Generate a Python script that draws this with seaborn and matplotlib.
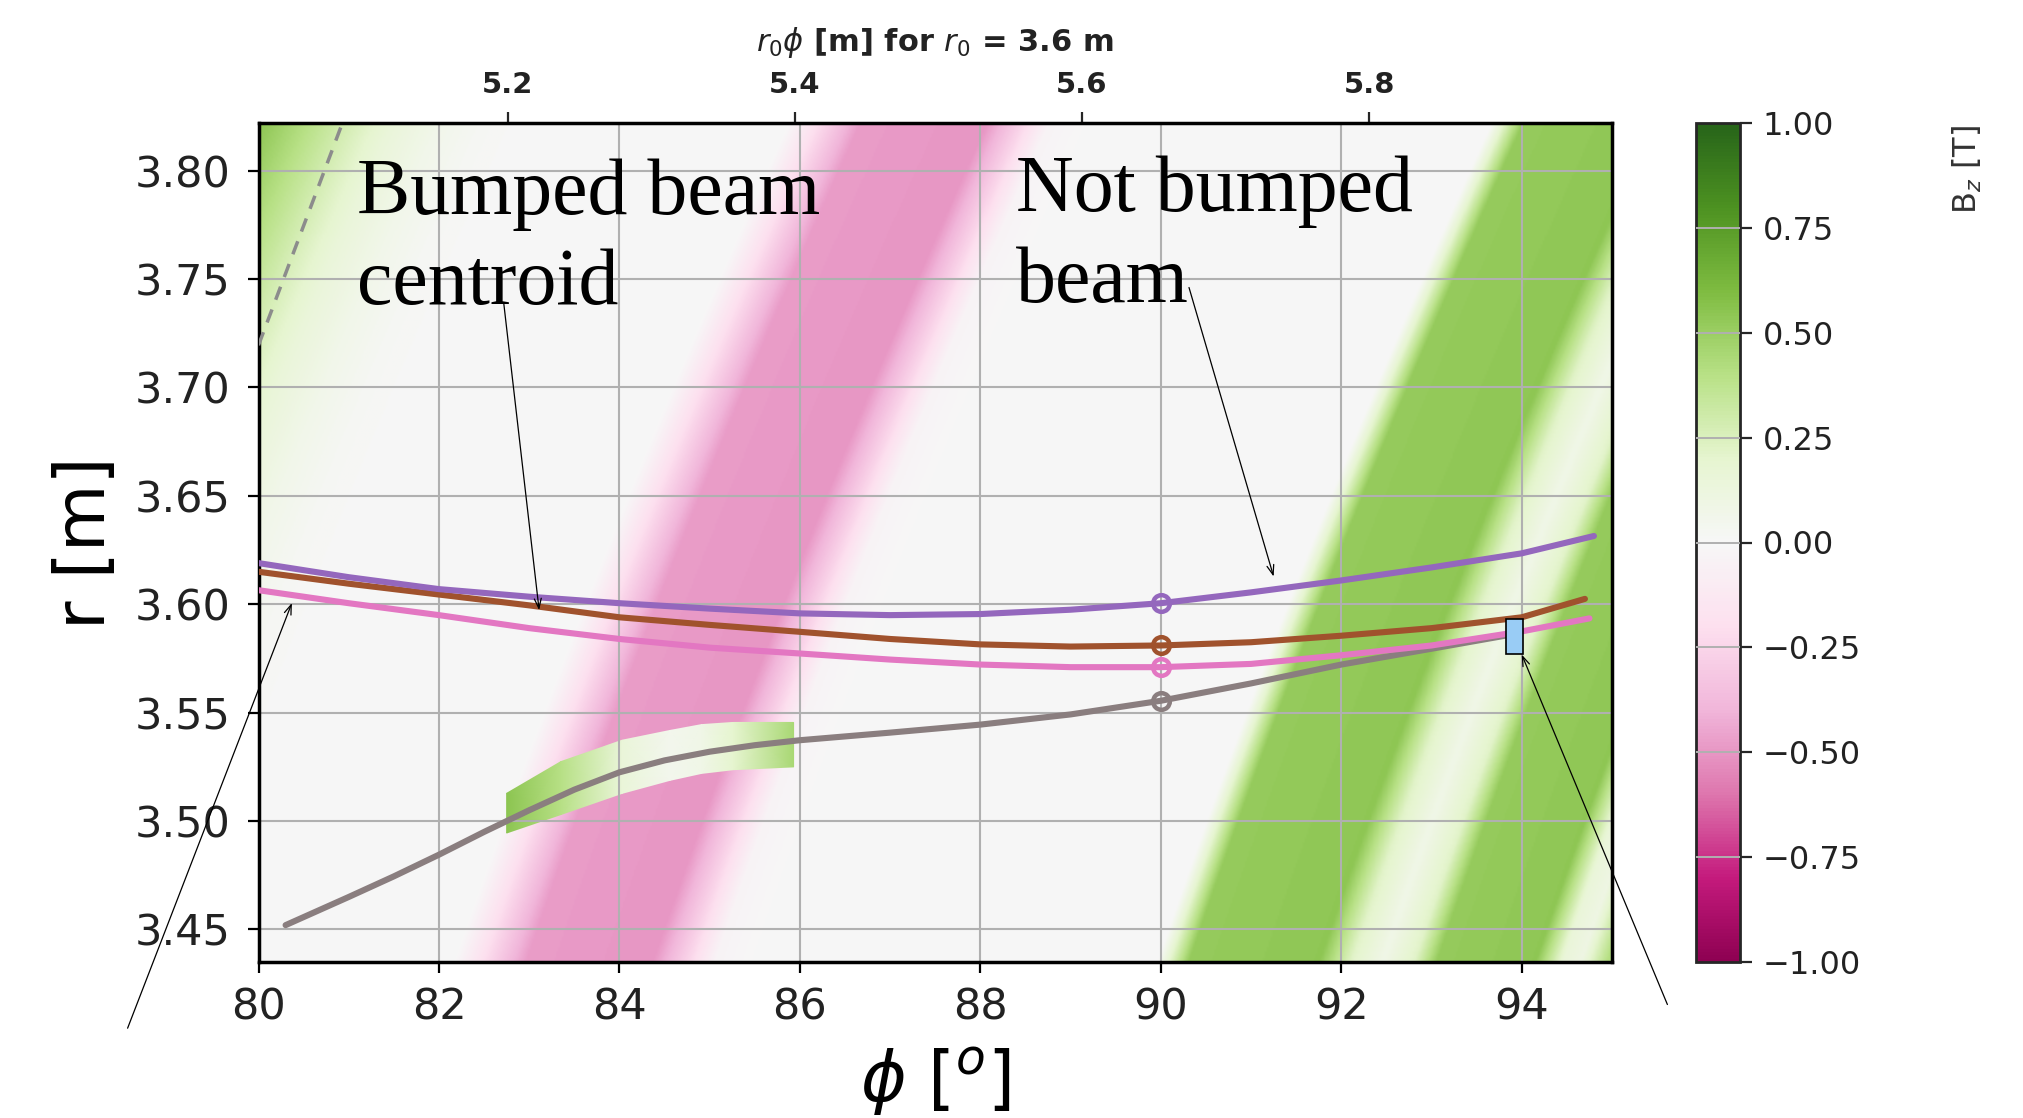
import numpy as np
import pandas as pd
import matplotlib
matplotlib.use("Agg")
import matplotlib.pyplot as plt
import seaborn as sns
from matplotlib.patches import Rectangle
from matplotlib.ticker import FuncFormatter

# ---------------- data ----------------
# beam trajectories r(phi)
purple_phi = [80, 81, 82, 83, 84, 85, 86, 87, 88, 89, 90, 91, 92, 93, 94, 94.8]
purple_r = [3.6190, 3.6125, 3.6070, 3.6035, 3.6005, 3.5980, 3.5958, 3.5950,
            3.5955, 3.5975, 3.6005, 3.6055, 3.6110, 3.6170, 3.6235, 3.6315]
brown_phi = [80, 81, 82, 83, 84, 85, 86, 87, 88, 89, 90, 91, 92, 93, 94, 94.7]
brown_r = [3.6150, 3.6095, 3.6045, 3.5995, 3.5940, 3.5905, 3.5873, 3.5840,
           3.5815, 3.5805, 3.5810, 3.5825, 3.5855, 3.5890, 3.5940, 3.6025]
pink_phi = [80, 81, 82, 83, 84, 85, 86, 87, 88, 89, 90, 91, 92, 93, 94, 94.75]
pink_r = [3.6065, 3.6005, 3.5950, 3.5890, 3.5840, 3.5800, 3.5773, 3.5745,
          3.5722, 3.5710, 3.5710, 3.5725, 3.5765, 3.5810, 3.5875, 3.5935]
gray_phi = [80.3, 81, 81.5, 82, 82.5, 83, 83.5, 84, 84.5, 85, 85.5, 86, 87,
            88, 89, 90, 91, 92, 93, 93.95]
gray_r = [3.4520, 3.4650, 3.4745, 3.4845, 3.4950, 3.5050, 3.5145, 3.5225,
          3.5280, 3.5320, 3.5350, 3.5373, 3.5408, 3.5445, 3.5492, 3.5555,
          3.5635, 3.5722, 3.5795, 3.5865]

# markers at phi = 90
mark_phi = [90, 90, 90, 90]
mark_r = [3.6005, 3.5810, 3.5710, 3.5555]

# dashed line (top-left)
dash_phi = [80.0, 80.93]
dash_r = [3.7195, 3.8220]

# blue box
box_phi = [93.82, 94.01]
box_r = [3.5771, 3.5930]

# field band around the bumped beam
band_phi = [82.75, 83.35, 84.03, 84.56, 84.91, 85.26, 85.93]
band_lo = [3.4945, 3.5030, 3.5128, 3.5188, 3.5220, 3.5237, 3.5250]
band_hi = [3.5128, 3.5274, 3.5373, 3.5418, 3.5445, 3.5455, 3.5455]
band_bz = [0.55, 0.40, 0.15, 0.05, 0.08, 0.20, 0.45]

# background field: Bz profile along phi at r = 3.44 m, stripes shift with r
prof_phi = [74.0, 76.3, 76.8, 77.3, 77.8, 78.3, 78.8, 79.3, 82.2, 82.6, 83.0,
            84.4, 84.8, 85.1, 85.5, 90.0, 90.35, 91.8, 92.15, 92.5, 92.85,
            93.1, 94.2, 94.5, 94.7, 95.0, 97.0]
prof_bz = [0.62, 0.56, 0.42, 0.28, 0.15, 0.07, 0.02, 0.0, 0.0, -0.25, -0.48,
           -0.50, -0.25, -0.03, 0.0, 0.0, 0.52, 0.54, 0.22, 0.08, 0.22, 0.52,
           0.54, 0.15, 0.10, 0.42, 0.52]
shift_lin = 8.2    # deg per m
shift_quad = 3.6   # deg per m^2
r_ref = 3.44

x_ticks = [80, 82, 84, 86, 88, 90, 92, 94]
y_ticks = [3.45, 3.50, 3.55, 3.60, 3.65, 3.70, 3.75, 3.80]
top_ticks = [5.2, 5.4, 5.6, 5.8]
top_labels = ["5.2", "5.4", "5.6", "5.8"]
cb_ticks = [-1.0, -0.75, -0.5, -0.25, 0.0, 0.25, 0.5, 0.75, 1.0]
r0 = 3.6

# ---------------- style ----------------
sns.set_style("ticks")
plt.rcParams["font.family"] = ["DejaVu Sans"]
plt.rcParams["mathtext.fontset"] = "dejavusans"
plt.rcParams["axes.unicode_minus"] = True
TXT = "#222222"
GRID = "#b0b0b0"


def fmt2(v, pos=None):
    return f"{v:.2f}".replace("-", "\u2212")


W, H = 2023, 1118
fig = plt.figure(figsize=(W / 100, H / 100), dpi=100)
ax_l, ax_r, ax_t, ax_b = 258.5, 1612, 123, 962
ax = fig.add_axes([ax_l / W, 1 - ax_b / H, (ax_r - ax_l) / W, (ax_b - ax_t) / H])
cax = fig.add_axes([1696 / W, 1 - ax_b / H, 44 / W, (ax_b - ax_t) / H])

xlim = (80, 95)
ylim = (3.435, 3.822)

# background field image
pg = np.linspace(xlim[0], xlim[1], 751)
rg = np.linspace(ylim[0], ylim[1], 400)
PHI, R = np.meshgrid(pg, rg)
dR = R - r_ref
U = PHI - (shift_lin * dR + shift_quad * dR ** 2)
Z = np.interp(U, prof_phi, prof_bz)
im = ax.imshow(Z, extent=[xlim[0], xlim[1], ylim[0], ylim[1]], origin="lower",
               aspect="auto", cmap="PiYG", vmin=-1, vmax=1,
               interpolation="bilinear", zorder=0)

# band around bumped beam
BX = np.array([band_phi, band_phi])
BY = np.array([band_lo, band_hi])
BC = np.array([band_bz, band_bz])
ax.pcolormesh(BX, BY, BC, cmap="PiYG", vmin=-1, vmax=1, shading="gouraud",
              zorder=1)

# trajectories
curves = [
    (gray_phi, gray_r, "#8a7e7f"),
    (pink_phi, pink_r, "#e377c2"),
    (brown_phi, brown_r, "#a0522d"),
    (purple_phi, purple_r, "#9467bd"),
]
for ph, rr, col in curves:
    df = pd.DataFrame({"phi": ph, "r": rr})
    sns.lineplot(data=df, x="phi", y="r", color=col, lw=4.4, ax=ax,
                 estimator=None, sort=False, legend=False, zorder=3)

mark_cols = ["#9467bd", "#a0522d", "#e377c2", "#8a7e7f"]
for p, rv, col in zip(mark_phi, mark_r, mark_cols):
    ax.plot([p], [rv], marker="o", ms=12, mfc="none", mec=col, mew=3.2,
            zorder=4, ls="none")

ax.plot(dash_phi, dash_r, ls=(0, (4, 3)), color="#8c8c8c", lw=2.5, zorder=3)

ax.add_patch(Rectangle((box_phi[0], box_r[0]), box_phi[1] - box_phi[0],
                       box_r[1] - box_r[0], facecolor="#99ccf5",
                       edgecolor="black", lw=1.2, zorder=5))

# axes formatting
ax.set_xlim(*xlim)
ax.set_ylim(*ylim)
ax.set_xticks(x_ticks)
ax.set_yticks(y_ticks)
ax.yaxis.set_major_formatter(FuncFormatter(fmt2))
ax.grid(True, color=GRID, lw=1.5)
ax.set_axisbelow("line")
ax.tick_params(axis="both", labelsize=31, length=8, width=1.6, colors="black",
               labelcolor=TXT, direction="out")
ax.tick_params(axis="x", pad=10)
ax.tick_params(axis="y", pad=12)
for s in ax.spines.values():
    s.set_visible(True)
    s.set_linewidth(2.5)
    s.set_color("black")

ax.set_xlabel(r"$\phi$ [$^o$]", fontsize=50, color="black")
ax.xaxis.set_label_coords(0.5, -0.100)
ax.set_ylabel("r [m]", fontsize=50, color="black")
ax.yaxis.set_label_coords(-0.103, 0.5)

# secondary top axis
secax = ax.secondary_xaxis(
    "top",
    functions=(lambda d: np.deg2rad(d) * r0, lambda m: np.rad2deg(m / r0)))
secax.set_xticks(top_ticks)
secax.set_xticklabels(top_labels, fontweight="bold")
secax.tick_params(labelsize=21, length=8, width=1.6, pad=9, labelcolor=TXT)
secax.set_xlabel(r"$r_0\phi$ [m] for $r_0$ = 3.6 m",
                 fontsize=22, fontweight="bold", labelpad=15, color=TXT)

# colorbar
cb = fig.colorbar(im, cax=cax)
cb.set_ticks(cb_ticks)
cb.ax.yaxis.set_major_formatter(FuncFormatter(fmt2))
cb.ax.tick_params(labelsize=23, length=8.5, width=1.6, pad=8, labelcolor=TXT)
cb.outline.set_linewidth(2)
for t in cb_ticks[1:-1]:
    cax.axhline(t, color=GRID, lw=1.4, zorder=5)
fig.text(1967 / W, 1 - 125 / H, r"B$_z$ [T]", rotation=90, va="top",
         ha="center", fontsize=23, color="#333333")

# annotations (serif text + thin arrows)
serif = ["Liberation Serif", "DejaVu Serif"]
fs_ann = 57.5
for txt, x0, yb in [("Bumped beam", 357, 214), ("centroid", 357, 303.6),
                    ("Not bumped", 1016, 210.7), ("beam", 1016, 301.8)]:
    fig.text(x0 / W, 1 - yb / H, txt, fontsize=fs_ann, family=serif,
             va="baseline", ha="left", color="black")

arrow_kw = dict(arrowstyle="->,head_length=0.7,head_width=0.25", lw=0.9,
                color="black", shrinkA=0, shrinkB=0)
arrows = [
    ((83.11, 3.5973), (503.8, H - 303.6)),
    ((91.25, 3.6128), (1189, H - 287.5)),
    ((80.37, 3.6006), (127.6, H - 1028.2)),
    ((94.00, 3.5768), (1667.4, H - 1004.5)),
]
for xy, xyt in arrows:
    ax.annotate("", xy=xy, xycoords="data", xytext=xyt,
                textcoords="figure pixels", arrowprops=arrow_kw,
                annotation_clip=False, zorder=10)

fig.savefig("out.png", dpi=100)
